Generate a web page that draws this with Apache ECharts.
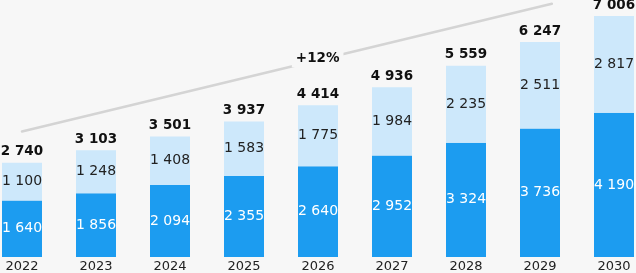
<!DOCTYPE html>
<html>
<head>
<meta charset="utf-8">
<script src="https://cdn.jsdelivr.net/npm/echarts@6/dist/echarts.min.js"></script>
<style>
  html, body { margin: 0; padding: 0; background: #f7f7f7; }
  #chart { width: 636px; height: 273px; }
</style>
</head>
<body>
<div id="chart"></div>
<script>
// data
var years = ['2022', '2023', '2024', '2025', '2026', '2027', '2028', '2029', '2030'];
var baseValues = [1640, 1856, 2094, 2355, 2640, 2952, 3324, 3736, 4190];
var addValues = [1100, 1248, 1408, 1583, 1775, 1984, 2235, 2511, 2817];
var totals = [2740, 3103, 3501, 3937, 4414, 4936, 5559, 6247, 7006];
// growth arrow: [category index, value] at both ends
var trendStart = [0, 3650];
var trendEnd = [7.16, 7360];
var trendLabel = '+12%';

var font = 'DejaVu Sans';

function fmt(v) {
  return String(v).replace(/\B(?=(\d{3})+(?!\d))/g, ' ');
}

var myChart = echarts.init(document.getElementById('chart'));

myChart.setOption({
  backgroundColor: '#f7f7f7',
  animation: false,
  textStyle: { fontFamily: font },
  grid: {
    left: -15,
    right: -15,
    top: 16,
    bottom: 16,
    containLabel: false,
    outerBoundsMode: 'none'
  },
  xAxis: {
    type: 'category',
    data: years,
    axisLine: { show: false },
    axisTick: { show: false },
    axisLabel: {
      color: '#222',
      fontSize: 13,
      margin: 3,
      fontFamily: font
    }
  },
  yAxis: {
    type: 'value',
    min: 0,
    max: 7006,
    show: false,
    splitLine: { show: false }
  },
  series: [
    {
      name: 'base',
      type: 'bar',
      stack: 'total',
      barWidth: 40,
      data: baseValues,
      itemStyle: { color: '#1c9cf0' },
      label: {
        show: true,
        position: 'inside',
        color: '#fff',
        fontSize: 14,
        fontFamily: font,
        formatter: function (p) { return fmt(p.value); }
      }
    },
    {
      name: 'add',
      type: 'bar',
      stack: 'total',
      barWidth: 40,
      data: addValues,
      itemStyle: { color: '#cde8fb' },
      label: {
        show: true,
        position: 'inside',
        color: '#222',
        fontSize: 14,
        fontFamily: font,
        formatter: function (p) { return fmt(p.value); }
      }
    },
    {
      name: 'total',
      type: 'line',
      data: totals,
      symbol: 'circle',
      symbolSize: 2,
      showSymbol: true,
      itemStyle: { color: 'rgba(0,0,0,0)' },
      lineStyle: { color: 'rgba(0,0,0,0)' },
      silent: true,
      z: 5,
      label: {
        show: true,
        position: 'top',
        distance: 3,
        color: '#111',
        fontSize: 13.5,
        fontWeight: 'bold',
        fontFamily: font,
        formatter: function (p) { return fmt(p.value); }
      }
    }
  ]
});

// trend line drawn in data space
function toPx(pt) {
  var a = myChart.convertToPixel({ gridIndex: 0 }, [0, pt[1]]);
  var b = myChart.convertToPixel({ gridIndex: 0 }, [1, pt[1]]);
  return [a[0] + (b[0] - a[0]) * pt[0], a[1]];
}
var p0 = toPx(trendStart);
var p1 = toPx(trendEnd);
var t = 0.558;
myChart.setOption({
  graphic: [
    {
      type: 'line',
      shape: { x1: p0[0], y1: p0[1], x2: p1[0], y2: p1[1] },
      style: { stroke: '#d4d4d4', lineWidth: 2.5, lineCap: 'round' },
      z: 1
    },
    {
      type: 'text',
      x: p0[0] + (p1[0] - p0[0]) * t,
      y: p0[1] + (p1[1] - p0[1]) * t - 2,
      style: {
        text: trendLabel,
        fill: '#111',
        font: 'bold 13.5px "DejaVu Sans"',
        align: 'center',
        verticalAlign: 'middle',
        backgroundColor: '#f7f7f7',
        padding: [2, 4]
      },
      z: 2
    }
  ]
});
</script>
</body>
</html>
